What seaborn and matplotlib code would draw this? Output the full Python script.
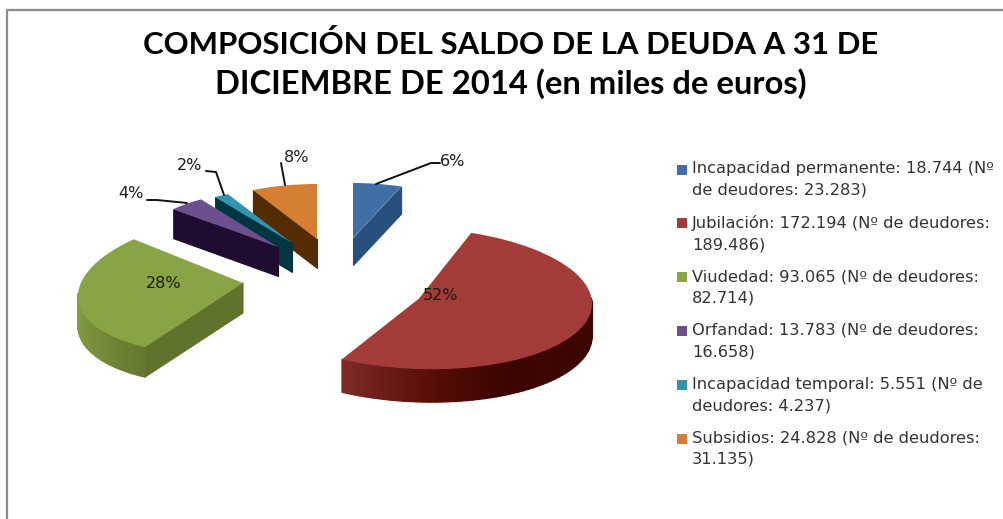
import textwrap
import numpy as np
import matplotlib
matplotlib.use("Agg")
import matplotlib.pyplot as plt
import seaborn as sns
from matplotlib.collections import PolyCollection
from matplotlib.colors import LinearSegmentedColormap
from matplotlib.transforms import Affine2D

# === Data ===
categories = ["Incapacidad permanente", "Jubilación", "Viudedad", "Orfandad",
              "Incapacidad temporal", "Subsidios"]
saldo = [18744, 172194, 93065, 13783, 5551, 24828]
deudores = [23283, 189486, 82714, 16658, 4237, 31135]
title_lines = ["COMPOSICIÓN DEL SALDO DE LA DEUDA A 31 DE",
               "DICIEMBRE DE 2014 (en miles de euros)"]

# === Look of each slice (3D pie faked by hand) ===
top_colors = ["#3f6fa6", "#a33c39", "#88a444", "#6c4f8d", "#3194ae", "#d57f32"]
side_colors = ["#27507e", "#7a2620", "#5f732d", "#1f0c30", "#003642", "#552c02"]
arc_stops = [
    [(0, "#27507e"), (1, "#27507e")],
    [(0, "#3c0500"), (0.72, "#3c0500"), (0.84, "#560d06"), (1, "#7c2a24")],
    [(0, "#66792f"), (0.5, "#86a244"), (1, "#86a244")],
    [(0, "#1f0c30"), (1, "#1f0c30")],
    [(0, "#003642"), (1, "#003642")],
    [(0, "#552c02"), (1, "#552c02")],
]
apex_x = [353, 419, 243, 278, 292, 317]
apex_y = [238, 298.5, 283, 247, 243, 239]
radius_x = [137, 173, 165, 140, 140, 140]
radius_y = [55, 70.5, 70, 57, 55, 55]
skew = [0, 0.03, -0.08, 0, 0, 0]
turn = [0, -3, 7, 0, 0, 0]
depth = [27, 33, 30, 29, 29, 29]
layer = [2, 3, 3, 4, 3, 2]

W, H = 1004, 519


def slice_transform(i):
    # unit circle of the pie -> pixel position of this exploded slice
    squash = Affine2D.from_values(radius_x[i], skew[i] * radius_x[i], 0, -radius_y[i],
                                  apex_x[i], apex_y[i])
    return Affine2D().rotate_deg(-turn[i]) + squash


def side_faces(wedge, i):
    tr = slice_transform(i)
    d = depth[i]
    degs = np.linspace(wedge.theta1, wedge.theta2, 90)
    angles = np.radians(degs)
    rim = tr.transform(np.column_stack([np.cos(angles), np.sin(angles)]))
    centre = tr.transform([[0, 0]])[0]
    cmap = LinearSegmentedColormap.from_list("arc", arc_stops[i])
    faces, colors = [], []
    n = len(rim) - 1
    for k in range(n):
        # back half of the rim is hidden under the top
        if np.sin(np.radians(degs[k] - turn[i])) > 0.05:
            continue
        a, b = rim[k], rim[k + 1]
        faces.append([a, b, b + [0, d], a + [0, d]])
        colors.append(cmap(1 - k / (n - 1)))
    # cut faces, only the ones looking at the viewer
    if np.sin(np.radians(wedge.theta1 - 90)) < -0.01:
        faces.append([centre, rim[0], rim[0] + [0, d], centre + [0, d]])
        colors.append(side_colors[i])
    if np.sin(np.radians(wedge.theta2 + 90)) < -0.01:
        faces.append([centre, rim[-1], rim[-1] + [0, d], centre + [0, d]])
        colors.append(side_colors[i])
    order = np.argsort([np.mean(np.array(f)[:, 1]) for f in faces])
    return [faces[o] for o in order], [colors[o] for o in order]


sns.set_theme(style="white")
plt.rcParams["font.family"] = "DejaVu Sans"

fig = plt.figure(figsize=(W / 100, H / 100), dpi=100)
ax = fig.add_axes([0, 0, 1, 1])

wedges, _ = ax.pie(saldo, startangle=90, counterclock=False, colors=top_colors,
                   wedgeprops={"linewidth": 0})
ax.set_aspect("auto")
ax.set_xlim(0, W)
ax.set_ylim(H, 0)
ax.axis("off")

for i, w in enumerate(wedges):
    w.set_transform(slice_transform(i) + ax.transData)
    w.set_zorder(layer[i] + 0.5)
    faces, colors = side_faces(w, i)
    ax.add_collection(PolyCollection(faces, facecolors=colors, edgecolors=colors,
                                     linewidths=0.8, zorder=layer[i]))

# === Frame of the pasted chart ===
ax.plot([7, 7, W], [H, 10, 10], color="#8c8c8c", linewidth=1.6, solid_capstyle="butt", zorder=1)

# === Percent labels and their leader lines ===
shares = [100 * v / sum(saldo) for v in saldo]
label_pos = [(453, 162), (441, 295), (164, 283), (131, 193), (190, 165), (297, 158)]
for share, (lx, ly) in zip(shares, label_pos):
    ax.text(lx, ly, f"{share:.0f}%", ha="center", va="center", fontsize=11.5,
            color="#1c1c1c", zorder=8)

leaders = [
    ([376, 431, 440], [184, 163, 163]),
    ([187, 157, 147], [203, 200, 200]),
    ([224, 216, 206], [195, 172, 171]),
    ([285, 281], [185, 163]),
]
for xs, ys in leaders:
    ax.plot(xs, ys, color="#111111", linewidth=1.4, zorder=7)

# === Title ===
for line, y, size in zip(title_lines, [44, 84], [22.4, 23.6]):
    ax.text(511, y, line, ha="center", va="center", fontsize=size, fontweight="bold",
            family="Lato", color="#000000")

# === Legend ===
fmt = lambda v: f"{v:,}".replace(",", ".")
legend_labels = [
    textwrap.fill(f"{c}: {fmt(s)} (Nº de deudores: {fmt(d)})", width=36)
    for c, s, d in zip(categories, saldo, deudores)
]
for i, label in enumerate(legend_labels):
    y = 169.5 + i * 53.8
    ax.scatter(682.5, y, marker="s", s=52, color=top_colors[i], linewidths=0, zorder=6)
    ax.text(692, y - 8, label, ha="left", va="top", fontsize=11.7, color="#333333",
            linespacing=1.54)

fig.savefig("out.png", dpi=100)
plt.close(fig)
